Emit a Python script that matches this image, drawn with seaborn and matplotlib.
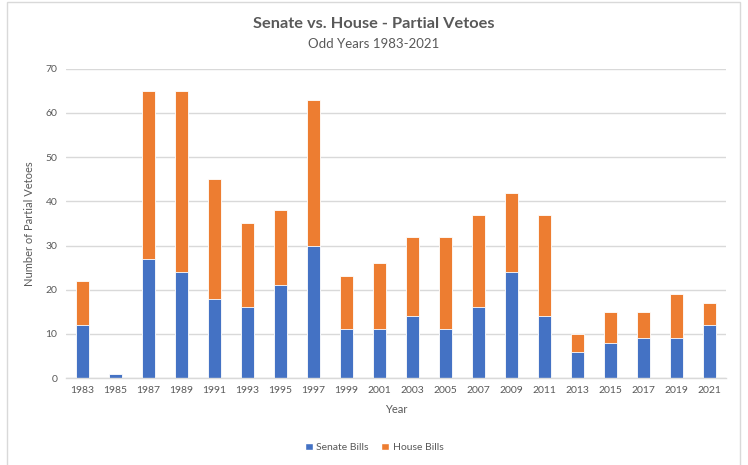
import matplotlib
matplotlib.use("Agg")
import matplotlib.pyplot as plt
import seaborn as sns
import pandas as pd
from matplotlib.patches import Rectangle, Patch

years = ["1983", "1985", "1987", "1989", "1991", "1993", "1995", "1997", "1999", "2001",
         "2003", "2005", "2007", "2009", "2011", "2013", "2015", "2017", "2019", "2021"]
senate = [12, 1, 27, 24, 18, 16, 21, 30, 11, 11, 14, 11, 16, 24, 14, 6, 8, 9, 9, 12]
house = [10, 0, 38, 41, 27, 19, 17, 33, 12, 15, 18, 21, 21, 18, 23, 4, 7, 6, 10, 5]

sns.set_theme(style="white")
plt.rcParams['font.family'] = ['Lato', 'DejaVu Sans']

df = pd.DataFrame({"Year": years, "Senate": senate, "House": house})
df["Total"] = df["Senate"] + df["House"]

BLUE = "#4472C4"
ORANGE = "#ED7D31"
GREY = "#595959"

fig = plt.figure(figsize=(7.48, 4.65), dpi=100)
ax = fig.add_axes([0.088, 0.187, 0.883, 0.665])

sns.barplot(data=df, x="Year", y="Total", color=ORANGE, width=0.4, ax=ax,
            saturation=1, edgecolor="white", linewidth=0.6)
sns.barplot(data=df, x="Year", y="Senate", color=BLUE, width=0.4, ax=ax,
            saturation=1, edgecolor="white", linewidth=0.6)

ax.set_xlim(-0.5, len(years) - 0.5)
ax.set_ylim(0, 70)
ax.set_yticks(range(0, 71, 10))
ax.yaxis.grid(True, color="#D9D9D9", linewidth=1)
ax.set_axisbelow(True)
for s in ["top", "right", "left"]:
    ax.spines[s].set_visible(False)
ax.spines["bottom"].set_color("#D9D9D9")
ax.spines["bottom"].set_linewidth(1)
ax.tick_params(axis="both", length=0, labelsize=7.5, colors=GREY, pad=6)
ax.set_xlabel("Year", fontsize=8, color=GREY, labelpad=6)
ax.set_ylabel("Number of Partial Vetoes", fontsize=8, color=GREY, labelpad=8)

fig.text(0.5, 0.948, "Senate vs. House - Partial Vetoes", ha="center", va="center",
         fontsize=11.8, fontweight="bold", color=GREY)
fig.text(0.5, 0.905, "Odd Years 1983-2021", ha="center", va="center",
         fontsize=9.5, color=GREY)

handles = [Patch(facecolor=BLUE, label="Senate Bills"),
           Patch(facecolor=ORANGE, label="House Bills")]
fig.legend(handles=handles, loc="center", bbox_to_anchor=(0.5, 0.038), ncol=2,
           frameon=False, fontsize=7.5, labelcolor=GREY, handlelength=0.8,
           handleheight=0.8, handletextpad=0.3, columnspacing=1.2)

fig.patches.append(Rectangle((7 / 748, -0.01), 733 / 748, 1 - 2 / 465 + 0.01,
                             transform=fig.transFigure, fill=False,
                             edgecolor="#D9D9D9", linewidth=1))

fig.savefig("out.png", dpi=100)
